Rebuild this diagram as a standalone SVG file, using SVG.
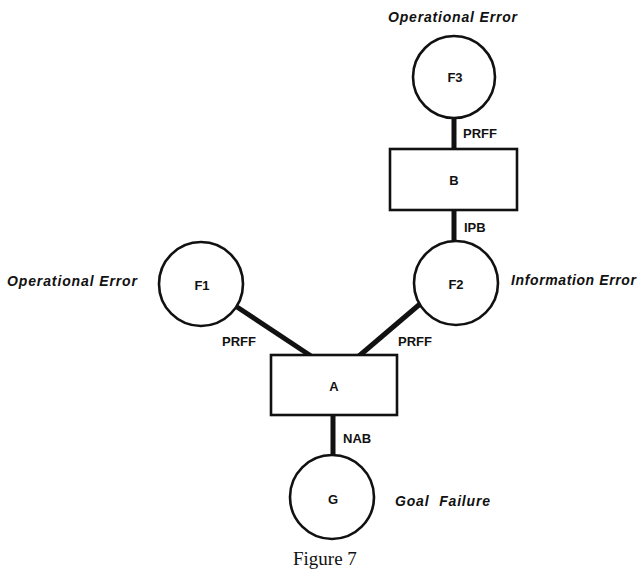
<svg xmlns="http://www.w3.org/2000/svg" width="640" height="571" viewBox="0 0 640 571">
  <style>
    .node { fill: #ffffff; stroke: #111111; stroke-width: 2.6; }
    .link { stroke: #111111; stroke-width: 5; fill: none; }
    .lbl { font-family: "Liberation Sans", Arial, sans-serif; font-weight: bold; font-size: 13px; fill: #111111; }
    .mid { text-anchor: middle; }
    .note { font-family: "Liberation Sans", Arial, sans-serif; font-weight: bold; font-style: italic; font-size: 14px; fill: #111111; }
    .caption { font-family: "Liberation Serif", "Times New Roman", serif; font-size: 19px; fill: #111111; }
  </style>
  <rect width="640" height="571" fill="#ffffff"/>

  <!-- connectors and their labels -->
  <g id="connectors">
    <line class="link" x1="454" y1="118" x2="454" y2="150"/>
    <line class="link" x1="454" y1="209" x2="454" y2="242"/>
    <line class="link" x1="237" y1="307" x2="311" y2="356"/>
    <line class="link" x1="420" y1="304" x2="359" y2="356"/>
    <line class="link" x1="333" y1="414" x2="333" y2="456"/>
    <text class="lbl" x="463" y="138">PRFF</text>
    <text class="lbl" x="464" y="232">IPB</text>
    <text class="lbl" x="222" y="346">PRFF</text>
    <text class="lbl" x="398" y="346">PRFF</text>
    <text class="lbl" x="343" y="443">NAB</text>
  </g>

  <g id="F3">
    <circle class="node" cx="454" cy="77" r="41"/>
    <text class="lbl mid" x="455" y="82">F3</text>
    <text class="note" x="388" y="22" textLength="129" lengthAdjust="spacing">Operational Error</text>
  </g>

  <g id="B">
    <rect class="node" x="390" y="149" width="127" height="61"/>
    <text class="lbl mid" x="454" y="185">B</text>
  </g>

  <g id="F2">
    <circle class="node" cx="456" cy="283" r="42"/>
    <text class="lbl mid" x="456" y="289">F2</text>
    <text class="note" x="511" y="285" textLength="125" lengthAdjust="spacing">Information Error</text>
  </g>

  <g id="F1">
    <circle class="node" cx="201" cy="284" r="42"/>
    <text class="lbl mid" x="202" y="290">F1</text>
    <text class="note" x="7" y="286" textLength="130" lengthAdjust="spacing">Operational Error</text>
  </g>

  <g id="A">
    <rect class="node" x="271" y="355" width="126" height="60"/>
    <text class="lbl mid" x="334" y="391">A</text>
  </g>

  <g id="G">
    <circle class="node" cx="332" cy="497" r="42"/>
    <text class="lbl mid" x="333" y="504">G</text>
    <text class="note" x="395" y="506" word-spacing="5" textLength="95" lengthAdjust="spacing">Goal Failure</text>
  </g>

  <text class="caption" x="293" y="565">Figure 7</text>
</svg>
